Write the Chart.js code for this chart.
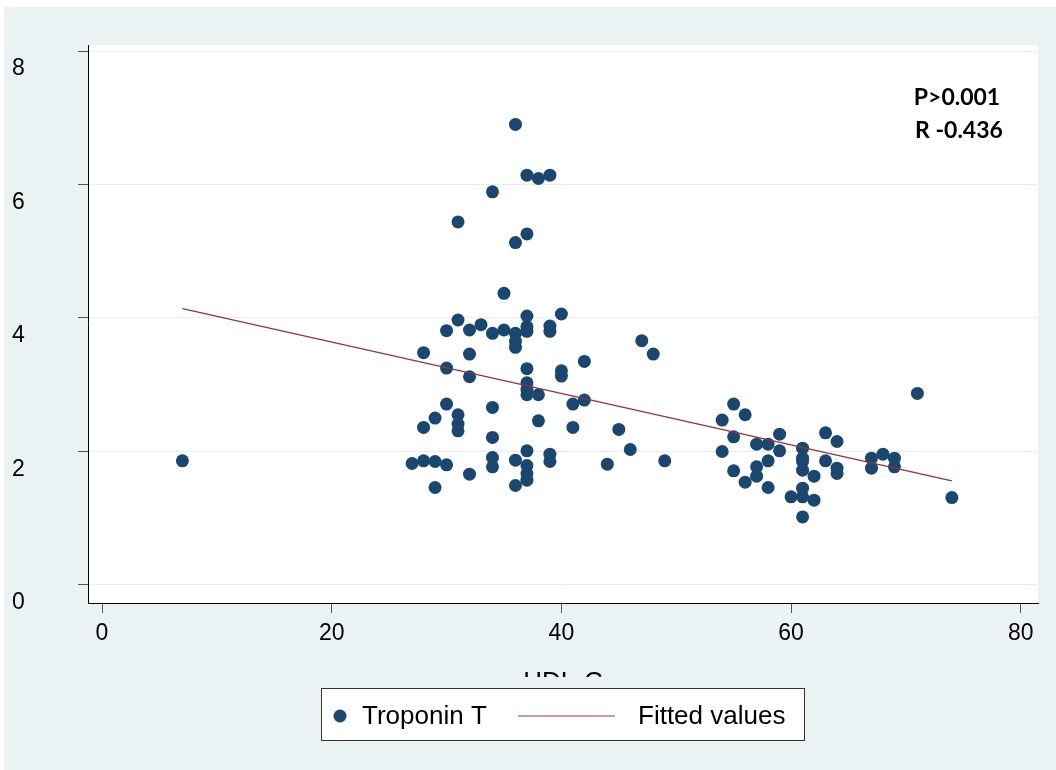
<!DOCTYPE html>
<html>
<head>
<meta charset="utf-8">
<script src="https://cdn.jsdelivr.net/npm/chart.js@4.4.1/dist/chart.umd.min.js"></script>
<style>
  body { margin: 0; background: #fff; }
</style>
</head>
<body>
<canvas id="chart" width="1056" height="770"></canvas>
<script>
// HDL-C (x) against Troponin T (y)
const hdl = [7, 27, 28, 28, 28, 29, 29, 29, 30, 30, 30, 30, 31, 31, 31, 31, 31,
  32, 32, 32, 32, 33, 34, 34, 34, 34, 34, 34, 35, 35, 36, 36, 36, 36, 36, 36, 36,
  37, 37, 37, 37, 37, 37, 37, 37, 37, 37, 37, 37, 37, 38, 38, 38, 39, 39, 39, 39, 39,
  40, 40, 40, 41, 41, 42, 42, 44, 45, 46, 47, 48, 49, 54, 54, 55, 55, 55, 56, 56,
  57, 57, 57, 58, 58, 58, 59, 59, 60, 61, 61, 61, 61, 61, 61, 61, 62, 62, 63, 63,
  64, 64, 64, 67, 67, 68, 69, 69, 71, 74];
const troponin = [1.86, 1.82, 1.86, 2.36, 3.48, 1.85, 1.46, 2.50, 1.80, 2.71, 3.25, 3.81, 2.31, 2.41, 2.55, 3.97, 5.44,
  1.66, 3.12, 3.46, 3.82, 3.90, 1.77, 1.91, 2.21, 2.66, 3.77, 5.89, 3.82, 4.37, 1.49, 1.87, 3.56, 3.65, 3.77, 5.13, 6.90,
  1.57, 1.67, 1.79, 2.01, 2.85, 2.93, 3.03, 3.24, 3.80, 3.87, 4.03, 5.26, 6.14, 2.46, 2.85, 6.09, 1.85, 1.96, 3.80, 3.88, 6.14,
  3.13, 3.21, 4.06, 2.36, 2.71, 2.77, 3.35, 1.81, 2.33, 2.03, 3.66, 3.46, 1.86, 2.00, 2.47, 1.71, 2.22, 2.71, 1.54, 2.55,
  1.63, 1.77, 2.11, 1.46, 1.86, 2.11, 2.01, 2.26, 1.32, 1.02, 1.32, 1.45, 1.72, 1.85, 1.90, 2.05, 1.27, 1.63, 1.86, 2.28,
  1.67, 1.75, 2.15, 1.75, 1.90, 1.96, 1.77, 1.90, 2.87, 1.31];
const fitX = [7, 74];
const fitY = [4.14, 1.56];
const xTicks = [0, 20, 40, 60, 80];
const yTicks = [0, 2, 4, 6, 8];
const stats = ['P>0.001', 'R -0.436'];
const xTitle = 'HDL-C';

const navy = '#1a476f';
const maroon = '#90353b';
const axisFont = { family: 'Liberation Sans, Arial, sans-serif', size: 23 };

const frame = {
  id: 'frame',
  beforeDraw(chart) {
    const { ctx, chartArea: a } = chart;
    ctx.save();
    ctx.fillStyle = '#eaf2f3';
    ctx.fillRect(4, 7, chart.width - 4, chart.height - 7);
    ctx.fillStyle = '#fff';
    ctx.fillRect(a.left, a.top, a.right - a.left, a.bottom - a.top);
    ctx.restore();
  },
  afterDraw(chart) {
    const { ctx } = chart;
    ctx.save();

    // stats note, top right
    ctx.fillStyle = '#000';
    ctx.font = 'bold 23px Lato, sans-serif';
    ctx.textAlign = 'center';
    ctx.textBaseline = 'middle';
    ctx.fillText(stats[0], 957, 98);
    ctx.fillText(stats[1], 959, 131);

    // x title, cut off by the legend area like in the original
    ctx.save();
    ctx.beginPath();
    ctx.rect(0, 660, chart.width, 17);
    ctx.clip();
    ctx.font = '26px Liberation Sans, Arial, sans-serif';
    ctx.textBaseline = 'top';
    ctx.fillText(xTitle, 563, 670);
    ctx.restore();

    // legend box
    const ds = chart.data.datasets;
    ctx.fillStyle = '#fff';
    ctx.fillRect(321, 688, 483, 52);
    ctx.strokeStyle = '#333';
    ctx.lineWidth = 1;
    ctx.strokeRect(321.5, 688.5, 483, 52);
    ctx.fillStyle = ds[0].backgroundColor;
    ctx.beginPath();
    ctx.arc(340, 716, 6.5, 0, Math.PI * 2);
    ctx.fill();
    ctx.strokeStyle = ds[1].borderColor;
    ctx.globalAlpha = 0.65;
    ctx.lineWidth = 1.5;
    ctx.beginPath();
    ctx.moveTo(518, 716);
    ctx.lineTo(615, 716);
    ctx.stroke();
    ctx.globalAlpha = 1;
    ctx.fillStyle = '#000';
    ctx.font = '26px Liberation Sans, Arial, sans-serif';
    ctx.textAlign = 'left';
    ctx.fillText(ds[0].label, 362, 717);
    ctx.fillText(ds[1].label, 638, 717);
    ctx.restore();
  }
};

new Chart(document.getElementById('chart'), {
  type: 'scatter',
  data: {
    datasets: [
      {
        label: 'Troponin T',
        data: hdl.map((x, i) => ({ x, y: troponin[i] })),
        backgroundColor: navy,
        borderWidth: 0,
        pointRadius: 6.5,
        order: 1
      },
      {
        type: 'line',
        label: 'Fitted values',
        data: fitX.map((x, i) => ({ x, y: fitY[i] })),
        borderColor: maroon,
        borderWidth: 1.2,
        pointRadius: 0,
        fill: false,
        order: 0
      }
    ]
  },
  options: {
    responsive: false,
    animation: false,
    layout: { padding: { left: 12, top: 45, right: 18, bottom: 103 } },
    plugins: { legend: { display: false }, tooltip: { enabled: false } },
    scales: {
      x: {
        type: 'linear',
        min: -1.22,
        max: 81.5,
        afterBuildTicks: s => { s.ticks = xTicks.map(v => ({ value: v })); },
        afterFit: s => { s.height = 64; },
        grid: { drawOnChartArea: false, tickLength: 10, tickColor: '#555' },
        border: { color: '#000', width: 1 },
        ticks: { font: axisFont, color: '#000', padding: 7, maxRotation: 0 }
      },
      y: {
        min: -0.27,
        max: 8.09,
        afterBuildTicks: s => { s.ticks = yTicks.map(v => ({ value: v })); },
        afterFit: s => { s.width = 76; },
        grid: { color: '#e6eef0', tickLength: 10, tickColor: '#555' },
        border: { color: '#000', width: 1 },
        ticks: { font: axisFont, color: '#000', labelOffset: 18, crossAlign: 'far' }
      }
    }
  },
  plugins: [frame]
});
</script>
</body>
</html>
